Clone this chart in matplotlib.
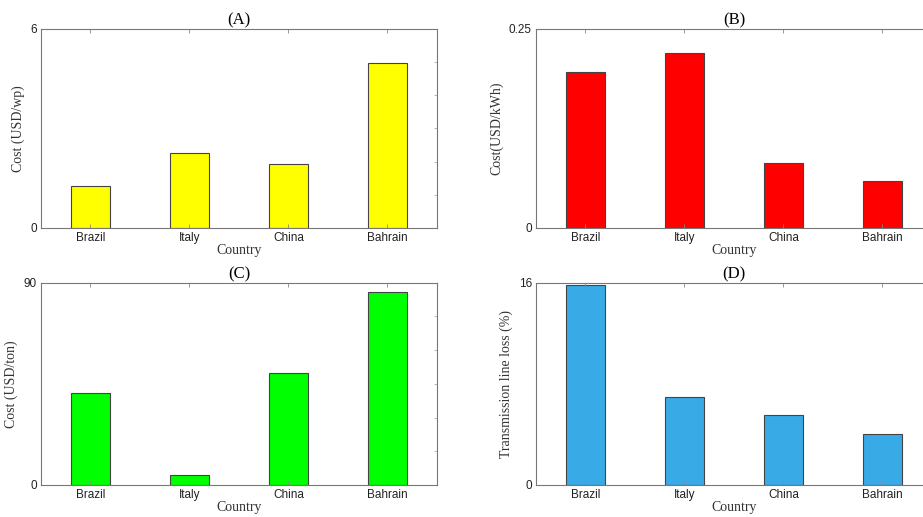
import matplotlib

matplotlib.use("Agg")
import matplotlib.pyplot as plt

countries = ["Brazil", "Italy", "China", "Bahrain"]
pv_cost = [1.27, 2.26, 1.93, 4.97]          # (A) USD/wp
energy_cost = [0.196, 0.220, 0.082, 0.059]  # (B) USD/kWh
ton_cost = [40.8, 4.4, 49.7, 86.0]          # (C) USD/ton
line_loss = [15.8, 7.0, 5.5, 4.0]           # (D) %

panels = [
    ("(A)", pv_cost, 6, "Cost (USD/wp)", "#ffff00", [0.0444, 0.559, 0.429, 0.385]),
    ("(B)", energy_cost, 0.25, "Cost(USD/kWh)", "#ff0000", [0.5807, 0.559, 0.429, 0.385]),
    ("(C)", ton_cost, 90, "Cost (USD/ton)", "#00ff00", [0.0444, 0.062, 0.429, 0.391]),
    ("(D)", line_loss, 16, "Transmission line loss (%)", "#38aae6", [0.5807, 0.062, 0.429, 0.391]),
]

fig = plt.figure(figsize=(9.23, 5.17), dpi=100)
x = list(range(1, len(countries) + 1))

for title, vals, ymax, ylabel, color, rect in panels:
    ax = fig.add_axes(rect)
    ax.bar(x, vals, width=0.4, color=color, edgecolor="#444444", linewidth=0.8)
    ax.set_xlim(0.5, 4.5)
    ax.set_ylim(0, ymax)
    ax.set_xticks(x)
    ax.set_xticklabels(countries, fontsize=8.5, family="Liberation Sans", color="#222222")
    ax.set_yticks([0, ymax])
    ax.set_yticklabels(["0", f"{ymax:g}"], fontsize=8.5, family="Liberation Sans", color="#222222")
    ax.set_yticks([ymax * k / 6 for k in range(1, 6)], minor=True)
    ax.tick_params(direction="in", length=3, width=0.6, color="#888888", top=True, right=True, pad=3)
    ax.tick_params(axis="x", pad=3)
    ax.tick_params(which="minor", direction="in", length=2, width=0.6, color="#aaaaaa", right=True, left=False)
    for s in ax.spines.values():
        s.set_color("#777777")
        s.set_linewidth(0.8)
    ax.set_title(title, fontsize=12, family="Liberation Serif", pad=3)
    ax.set_xlabel("Country", fontsize=10, family="Liberation Serif", color="#333333", labelpad=0)
    ax.set_ylabel(ylabel, fontsize=10, family="Liberation Serif", color="#333333", labelpad=4)

fig.savefig("out.png", dpi=100, facecolor="white")
